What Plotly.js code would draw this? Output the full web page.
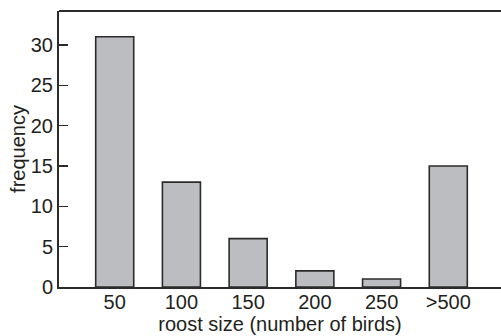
<!DOCTYPE html>
<html>
<head>
<meta charset="utf-8">
<script src="https://cdn.plot.ly/plotly-3.0.1.min.js"></script>
<style>html,body{margin:0;padding:0;background:#fff;}#chart{width:501px;height:336px;}</style>
</head>
<body>
<div id="chart"></div>
<script>
const categories = ["50", "100", "150", "200", "250", ">500"];
const frequency = [31, 13, 6, 2, 1, 15];
const yTicks = [0, 5, 10, 15, 20, 25, 30];

const font = {family: "Liberation Sans, Arial, sans-serif", size: 20, color: "#231f20"};

Plotly.newPlot("chart", [{
  type: "bar",
  x: categories,
  y: frequency,
  width: 0.57,
  marker: {color: "#bcbdc0", line: {color: "#2b2b2b", width: 1.6}}
}], {
  width: 501, height: 336,
  margin: {l: 59, r: 0, t: 11, b: 49, pad: 0},
  paper_bgcolor: "#fff", plot_bgcolor: "#fff",
  font: font,
  showlegend: false,
  xaxis: {
    type: "category",
    range: [-0.835, 5.79],
    showline: true, linecolor: "#2b2b2b", linewidth: 2, mirror: false,
    ticks: "", showgrid: false, zeroline: false,
    tickfont: font,
    ticklabelstandoff: -4,
    title: {text: "roost size (number of birds)", font: font, standoff: 0},
    automargin: false
  },
  yaxis: {
    range: [0, 34.2],
    tickvals: yTicks,
    ticktext: yTicks.map(String),
    showline: true, linecolor: "#2b2b2b", linewidth: 2,
    ticks: "inside", ticklen: 9, tickwidth: 1.5, tickcolor: "#2b2b2b",
    showgrid: false, zeroline: false,
    tickfont: font,
    title: {text: "frequency", font: font, standoff: 0},
    automargin: false
  },
  shapes: [{type: "line", xref: "paper", yref: "paper", x0: 0, x1: 1, y0: 1, y1: 1,
            line: {color: "#2b2b2b", width: 2}}]
}, {displayModeBar: false, staticPlot: true});
</script>
</body>
</html>
